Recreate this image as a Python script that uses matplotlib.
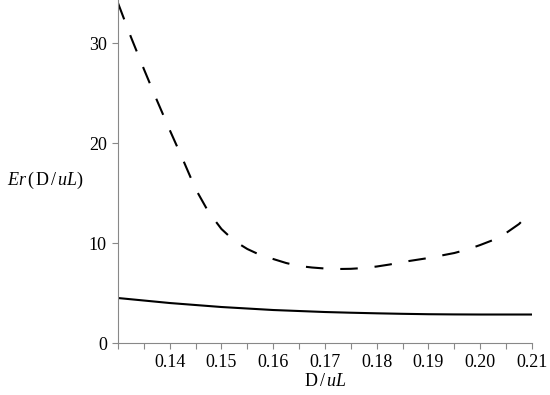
import numpy as np
import matplotlib
matplotlib.use("Agg")
import matplotlib.pyplot as plt
from matplotlib.ticker import MultipleLocator

plt.rcParams["font.family"] = ["Liberation Serif", "DejaVu Serif"]
plt.rcParams["mathtext.fontset"] = "custom"
plt.rcParams["mathtext.rm"] = "Liberation Serif"
plt.rcParams["mathtext.it"] = "Liberation Serif:italic"

# D/uL values
x_dash = [0.1300, 0.1325, 0.1350, 0.1375, 0.1400, 0.1425, 0.1450, 0.1475,
          0.1500, 0.1525, 0.1550, 0.1575, 0.1600, 0.1625, 0.1650, 0.1675,
          0.1700, 0.1725, 0.1750, 0.1775, 0.1800, 0.1825, 0.1850, 0.1875,
          0.1900, 0.1925, 0.1950, 0.1975, 0.2000, 0.2025, 0.2050, 0.2075,
          0.2100]
er_dash = [34.0, 30.6, 27.4, 24.3, 21.3, 18.4, 15.4, 13.1,
           11.4, 10.2, 9.4, 8.8, 8.4, 8.0, 7.7, 7.55,
           7.45, 7.4, 7.42, 7.5, 7.65, 7.85, 8.1, 8.3,
           8.5, 8.75, 9.0, 9.35, 9.8, 10.3, 11.0, 11.9,
           13.2]

x_solid = [0.130, 0.135, 0.140, 0.145, 0.150, 0.155, 0.160, 0.165, 0.170,
           0.175, 0.180, 0.185, 0.190, 0.195, 0.200, 0.205, 0.210]
er_solid = [4.5, 4.25, 4.0, 3.8, 3.6, 3.45, 3.3, 3.2, 3.1,
            3.03, 2.97, 2.92, 2.88, 2.86, 2.85, 2.85, 2.85]

fig = plt.figure(figsize=(5.5, 3.95), dpi=100)
ax = fig.add_axes([0.2145, 0.1316, 0.7527, 0.8684])

ax.plot(x_dash, er_dash, color="black", lw=1.5, linestyle=(0, (8.4, 8.1)))
ax.plot(x_solid, er_solid, color="black", lw=1.5)

ax.set_xlim(0.13, 0.21)
ax.set_ylim(0, 34.3)
ax.xaxis.set_minor_locator(MultipleLocator(0.005))
ax.set_xticks([0.14, 0.15, 0.16, 0.17, 0.18, 0.19, 0.20, 0.21])
ax.set_xticklabels(["0.14", "0.15", "0.16", "0.17", "0.18", "0.19", "0.20", "0.21"])
ax.set_yticks([0, 10, 20, 30])

for s in ["top", "right"]:
    ax.spines[s].set_visible(False)
for s in ["left", "bottom"]:
    ax.spines[s].set_color("#888888")
    ax.spines[s].set_linewidth(0.8)

ax.tick_params(which="both", colors="#888888", labelcolor="black",
               labelsize=13, width=0.8)
ax.tick_params(which="major", length=4, pad=4)
ax.tick_params(which="minor", length=4)

ax.set_xlabel(r"$\mathrm{D}\,/\,uL$", fontsize=13, labelpad=1)
ax.set_ylabel(r"$Er\,(\,\mathrm{D}\,/\,uL)$", fontsize=13, rotation=0,
              labelpad=0, va="center")
ax.yaxis.set_label_coords(-0.175, 0.475)

fig.savefig("out.png", dpi=100)
